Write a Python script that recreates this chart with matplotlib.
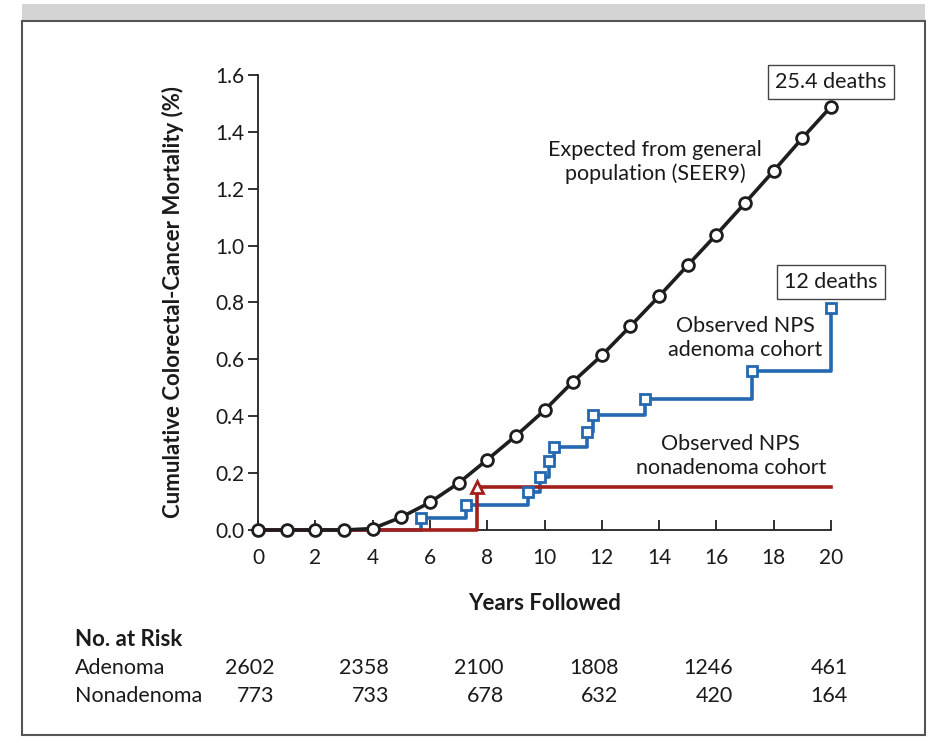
import matplotlib.pyplot as plt
from matplotlib.patches import Rectangle
from matplotlib.transforms import blended_transform_factory

plt.rcParams['font.family'] = ['Lato', 'DejaVu Sans']

# expected (SEER9) cumulative mortality, one point per year
exp_years = [0, 1, 2, 3, 4, 5, 6, 7, 8, 9, 10, 11, 12, 13, 14, 15, 16, 17, 18, 19, 20]
exp_vals = [0, 0, 0, 0, 0.005, 0.045, 0.097, 0.165, 0.247, 0.331, 0.421, 0.522, 0.614,
            0.717, 0.822, 0.931, 1.039, 1.15, 1.263, 1.378, 1.489]

# observed adenoma cohort (step times and levels)
aden_years = [5.68, 7.25, 9.41, 9.84, 10.16, 10.33, 11.47, 11.68, 13.5, 17.25, 20.0]
aden_vals = [0.041, 0.088, 0.132, 0.188, 0.243, 0.292, 0.346, 0.405, 0.46, 0.559, 0.779]

# observed nonadenoma cohort
nonaden_years = [7.65]
nonaden_vals = [0.15]

risk_years = [0, 4, 8, 12, 16, 20]
risk_aden = ['2602', '2358', '2100', '1808', '1246', '461']
risk_nonaden = ['773', '733', '678', '632', '420', '164']

black = '#1e1e1e'
blue = '#2368b0'
red = '#a31f1c'
txt = '#1a1a1a'

fig = plt.figure(figsize=(9.31, 7.43), dpi=100)

# outer frame like the screenshot
fig.patches.append(Rectangle((22 / 931, 1 - 21 / 743), 903 / 931, 17 / 743,
                             transform=fig.transFigure, facecolor='#d4d4d4',
                             edgecolor='none', zorder=-2))
fig.patches.append(Rectangle((22 / 931, 1 - 735 / 743), 903 / 931, 714 / 743,
                             transform=fig.transFigure, facecolor='white',
                             edgecolor='#555555', linewidth=1.5, zorder=-1))

ax = fig.add_axes([258 / 931, 1 - 530 / 743, 573 / 931, 455 / 743])
ax.set_zorder(1)
ax.patch.set_alpha(0)
ax.set_xlim(0, 20)
ax.set_ylim(0, 1.6)

# adenoma step line (starts at zero)
ax.step([0] + aden_years, [0] + aden_vals, where='post', color=blue, lw=2.6,
        zorder=3, clip_on=False)
ax.plot(aden_years, aden_vals, ls='none', marker='s', ms=7.5, mfc='white',
        mec=blue, mew=2, zorder=4, clip_on=False)

# nonadenoma step line
ax.step([0] + nonaden_years + [20], [0] + nonaden_vals + nonaden_vals[-1:],
        where='post', color=red, lw=2.6, zorder=3.5, clip_on=False)
ax.plot(nonaden_years, nonaden_vals, ls='none', marker='^', ms=8, mfc='white',
        mec=red, mew=2, zorder=4.5, clip_on=False)

# expected
ax.plot(exp_years, exp_vals, color=black, lw=2.6, marker='o', ms=8.5, mfc='white',
        mec=black, mew=2, zorder=5, clip_on=False)

for s in ['top', 'right']:
    ax.spines[s].set_visible(False)
for s in ['left', 'bottom']:
    ax.spines[s].set_color('#222222')
    ax.spines[s].set_linewidth(1.3)

ax.set_xticks(range(0, 21, 2))
ax.set_yticks([i / 10 for i in range(0, 17, 2)])
ax.set_yticklabels(['%.1f' % (i / 10) for i in range(0, 17, 2)])
ax.tick_params(axis='x', direction='in', length=7, width=1.3, labelsize=15, pad=13,
               colors='#222222', labelcolor=txt)
ax.tick_params(axis='y', direction='out', length=7, width=1.3, labelsize=15, pad=3,
               colors='#222222', labelcolor=txt)

ax.set_xlabel('Years Followed', fontsize=16, fontweight='bold', labelpad=18, color=txt)
ax.set_ylabel('Cumulative Colorectal-Cancer Mortality (%)', fontsize=16,
              fontweight='bold', labelpad=22, color=txt)

box = dict(boxstyle='square,pad=0.32', facecolor='white', edgecolor='#444444', lw=1)
ax.text(20, 1.575, '25.4 deaths', ha='center', va='center', fontsize=15.5, bbox=box,
        zorder=6, color=txt)
ax.text(20, 0.872, '12 deaths', ha='center', va='center', fontsize=15.5, bbox=box,
        zorder=6, color=txt)

ax.text(13.86, 1.294, 'Expected from general\npopulation (SEER9)', ha='center',
        va='center', fontsize=15.5, linespacing=1.25, color=txt)
ax.text(17.0, 0.675, 'Observed NPS\nadenoma cohort', ha='center', va='center',
        fontsize=15.5, linespacing=1.25, color=txt)
ax.text(16.5, 0.26, 'Observed NPS\nnonadenoma cohort', ha='center', va='center',
        fontsize=15.5, linespacing=1.25, color=txt)

# number at risk table
tr = blended_transform_factory(ax.transData, ax.transAxes)
fig.text(75 / 931, 1 - 640 / 743, 'No. at Risk', fontsize=16, fontweight='bold',
         va='center', color=txt)
fig.text(75 / 931, 1 - 668 / 743, 'Adenoma', fontsize=15.5, va='center', color=txt)
fig.text(75 / 931, 1 - 696 / 743, 'Nonadenoma', fontsize=15.5, va='center', color=txt)
for x, a, n in zip(risk_years, risk_aden, risk_nonaden):
    ax.text(x + 0.58, -0.303, a, transform=tr, ha='right', va='center', fontsize=15.5,
            clip_on=False, color=txt)
    ax.text(x + 0.58, -0.365, n, transform=tr, ha='right', va='center', fontsize=15.5,
            clip_on=False, color=txt)

fig.savefig('out.png', dpi=100)
